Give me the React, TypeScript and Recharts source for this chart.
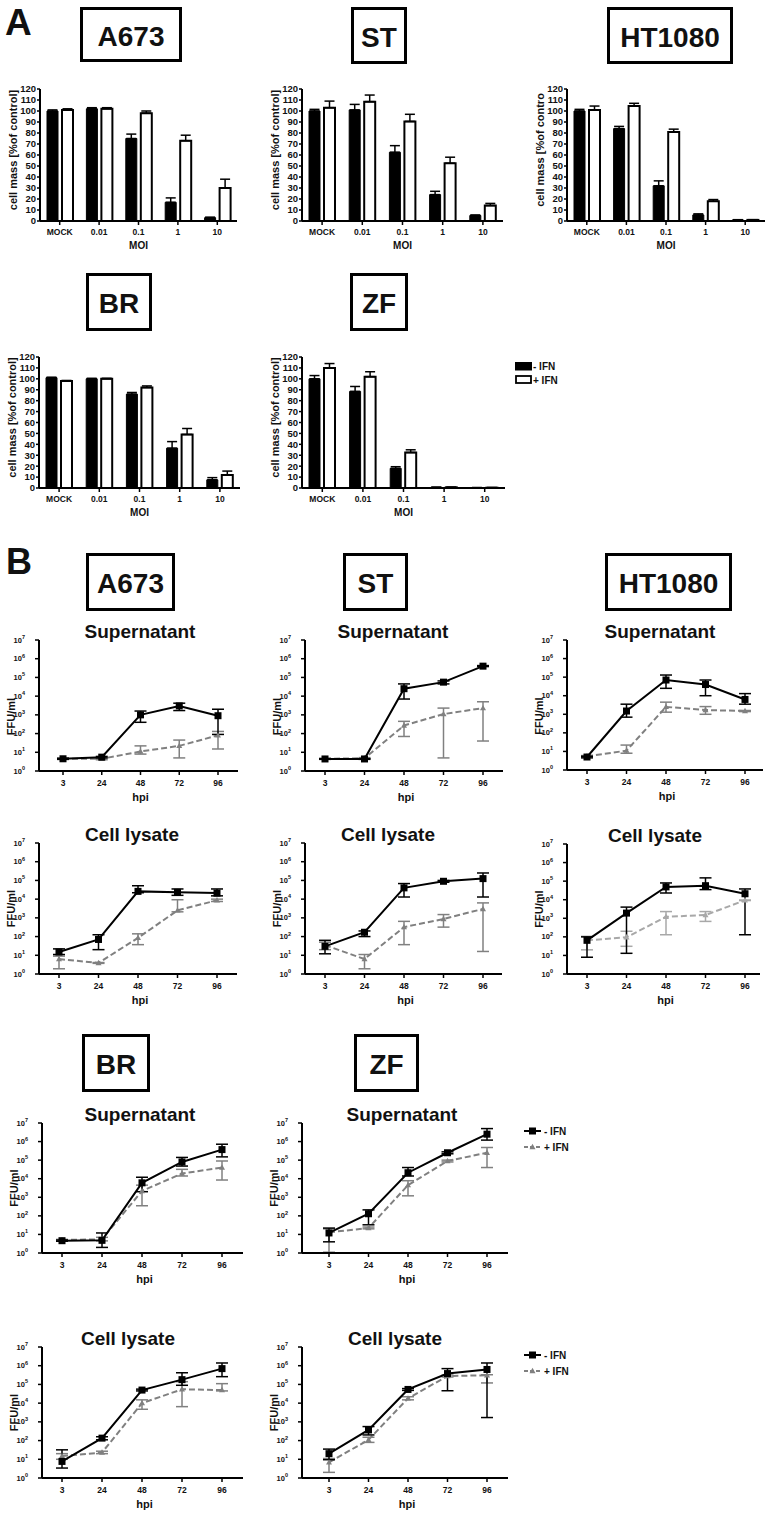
import React from 'react';
import { BarChart, Bar, LineChart, Line, XAxis, YAxis, ErrorBar } from 'recharts';

const FONT = '"Liberation Sans", Arial, Helvetica, sans-serif';

const moiLabels = ['MOCK', '0.01', '0.1', '1', '10'];
const hpiLabels = ['3', '24', '48', '72', '96'];
const pctTicks = [0, 10, 20, 30, 40, 50, 60, 70, 80, 90, 100, 110, 120];
const logTicks = [1, 10, 100, 1000, 10000, 100000, 1000000, 10000000];

// ---------- Panel A: cell mass [% of control] ----------
const a673BarNeg = [100, 102, 75, 17, 3];
const a673BarNegErr = [1, 1, 4, 4, 0.5];
const a673BarPos = [101, 102, 98, 73, 30];
const a673BarPosErr = [1, 1, 2, 5, 8];

const stBarNeg = [100, 101, 62.5, 24, 5];
const stBarNegErr = [1.5, 5, 6, 3, 0.5];
const stBarPos = [103, 108.5, 90.5, 52.5, 14];
const stBarPosErr = [6, 6, 6.5, 5.5, 2];

const htBarNeg = [100, 84, 32, 5.5, 1];
const htBarNegErr = [1.5, 2, 4.5, 1, 0.2];
const htBarPos = [101, 104.5, 81, 18, 1];
const htBarPosErr = [3.5, 2.5, 2.5, 1.5, 0.2];

const brBarNeg = [101, 100, 86, 36.5, 7.5];
const brBarNegErr = [0.5, 0.5, 1.5, 6, 2];
const brBarPos = [98, 100, 92, 49, 12];
const brBarPosErr = [0.5, 0.5, 1.5, 5.5, 3.5];

const zfBarNeg = [100, 88.5, 18, 0.6, 0.3];
const zfBarNegErr = [3, 4.5, 1.5, 0.2, 0.1];
const zfBarPos = [110, 102, 32.5, 0.6, 0.3];
const zfBarPosErr = [4, 4.5, 2.5, 0.2, 0.1];

// ---------- Panel B: FFU/ml (value, [low, high] of error bar) ----------
const a673SupNeg = [4.5, 5.5, 1000, 3000, 900];
const a673SupNegErr = [[4.2, 4.8], [5, 6], [400, 1600], [1700, 4200], [90, 2000]];
const a673SupPos = [4.5, 4.5, 11, 22, 80];
const a673SupPosErr = [[4.2, 4.8], [4, 5], [8, 22], [5, 45], [15, 130]];

const stSupNeg = [4.4, 4.4, 25000, 56000, 400000];
const stSupNegErr = [[4.2, 4.6], [4.2, 4.6], [7000, 45000], [45000, 65000], [380000, 430000]];
const stSupPos = [4.5, 4.8, 270, 1100, 2300];
const stSupPosErr = [[4.3, 4.7], [4.5, 5.2], [70, 450], [5, 2300], [40, 5000]];

const htSupNeg = [5, 1500, 70000, 40000, 6300];
const htSupNegErr = [[4.5, 5.5], [700, 3500], [25000, 130000], [10000, 70000], [3500, 13000]];
const htSupPos = [5.5, 11, 2500, 1700, 1500];
const htSupPosErr = [[5, 6], [8, 22], [1300, 4500], [1000, 2600], [1400, 1600]];

const a673LysNeg = [15, 70, 26000, 23000, 21000];
const a673LysNegErr = [[11, 22], [20, 125], [22000, 52000], [16000, 35000], [15000, 35000]];
const a673LysPos = [6.3, 3.9, 85, 2500, 8700];
const a673LysPosErr = [[1.9, 9], [3.7, 4.1], [37, 140], [2100, 9300], [7500, 10000]];

const stLysNeg = [30, 170, 40000, 90000, 125000];
const stLysNegErr = [[12, 63], [100, 200], [13000, 68000], [80000, 100000], [13000, 250000]];
const stLysPos = [35, 6.3, 320, 870, 3000];
const stLysPosErr = [[20, 50], [1.9, 11], [37, 650], [320, 1500], [16, 6300]];

const htLysNeg = [65, 1900, 49000, 57000, 21000];
const htLysNegErr = [[8, 100], [13, 4000], [23000, 80000], [35000, 150000], [130, 38000]];
const htLysPos = [65, 95, 1200, 1500, 9300];
const htLysPosErr = [[20, 107], [31, 200], [130, 2300], [680, 2300], [9000, 9600]];

const brSupNeg = [4.6, 4.8, 6000, 80000, 370000];
const brSupNegErr = [[4.3, 5], [2, 12], [2000, 12000], [48000, 140000], [150000, 720000]];
const brSupPos = [5, 5.5, 2200, 19000, 40000];
const brSupPosErr = [[4.6, 5.4], [4.5, 7], [350, 4500], [14000, 32000], [8500, 90000]];

const zfSupNeg = [12, 130, 21000, 250000, 2500000];
const zfSupNegErr = [[4, 22], [33, 210], [14000, 40000], [220000, 280000], [1200000, 5000000]];
const zfSupPos = [13, 22, 4500, 90000, 250000];
const zfSupPosErr = [[1.1, 20], [20, 25], [1200, 7800], [80000, 100000], [40000, 480000]];

const brLysNeg = [7.7, 135, 50000, 180000, 700000];
const brLysNegErr = [[3.4, 32], [110, 160], [45000, 56000], [90000, 420000], [260000, 1400000]];
const brLysPos = [15, 23, 10000, 55000, 50000];
const brLysPosErr = [[10, 20], [20, 27], [4700, 15000], [6500, 140000], [45000, 110000]];

const zfLysNeg = [20, 370, 54000, 380000, 630000];
const zfLysNegErr = [[9.5, 35], [200, 560], [48000, 60000], [46000, 700000], [1700, 1400000]];
const zfLysPos = [6.8, 110, 18000, 280000, 310000];
const zfLysPosErr = [[2, 11], [80, 150], [15000, 22000], [250000, 320000], [120000, 330000]];

// ---------- helpers ----------
function barRows(neg: number[], negErr: number[], pos: number[], posErr: number[]) {
  return moiLabels.map((m, i) => ({ moi: m, neg: neg[i], negE: [0, negErr[i]], pos: pos[i], posE: [0, posErr[i]] }));
}
function lineRows(neg: number[], negErr: number[][], pos: number[], posErr: number[][]) {
  return hpiLabels.map((h, i) => ({
    hpi: h,
    neg: neg[i],
    negE: [neg[i] - negErr[i][0], negErr[i][1] - neg[i]],
    pos: pos[i],
    posE: [pos[i] - posErr[i][0], posErr[i][1] - pos[i]],
  }));
}

const axisLine = { stroke: '#000', strokeWidth: 2 };
const tickLine = { stroke: '#000', strokeWidth: 1.5 };

function BarPanel({ L, R, T, B, rows }: any) {
  const left = L - 40;
  const top = T - 9;
  const width = R - left + 5;
  const height = B - top + 30;
  return (
    <div style={{ position: 'absolute', left, top, width, height }}>
      <BarChart width={width} height={height} data={rows} margin={{ top: 9, right: 5, left: 0, bottom: 0 }} barSize={11} barGap={4}>
        <XAxis dataKey="moi" height={30} interval={0} tickSize={4} tickMargin={4} axisLine={axisLine} tickLine={tickLine}
          tick={{ fontSize: 8.5, fontWeight: 'bold', fontFamily: FONT, fill: '#111' }} />
        <YAxis width={40} domain={[0, 120]} ticks={pctTicks} interval={0} tickSize={3} tickMargin={1} allowDataOverflow
          axisLine={axisLine} tickLine={tickLine} tick={{ fontSize: 9.5, fontWeight: 'bold', fontFamily: FONT, fill: '#111' }} />
        <Bar dataKey="neg" fill="#000" stroke="#000" strokeWidth={1} isAnimationActive={false}>
          <ErrorBar dataKey="negE" width={5} stroke="#000" strokeWidth={1.5} direction="y" isAnimationActive={false} />
        </Bar>
        <Bar dataKey="pos" fill="#fff" stroke="#000" strokeWidth={2} isAnimationActive={false}>
          <ErrorBar dataKey="posE" width={5} stroke="#000" strokeWidth={1.5} direction="y" isAnimationActive={false} />
        </Bar>
      </BarChart>
    </div>
  );
}

const LogTick = (props: any) => {
  const { x, y, payload } = props;
  const e = Math.round(Math.log10(payload.value));
  return (
    <text x={x} y={y + 2.5} textAnchor="end" fontFamily={FONT} fontWeight="bold" fontSize={7.5} fill="#111">
      10<tspan dy={-3.5} fontSize={5.5}>{e}</tspan>
    </text>
  );
};

const squareDot = (p: any) => (
  <rect key={`sq${p.index}`} x={p.cx - 3.5} y={p.cy - 3.5} width={7} height={7} fill="#000" />
);
const triDot = (color: string) => (p: any) => (
  <path key={`tr${p.index}`} d={`M${p.cx},${p.cy - 3.2} L${p.cx + 3},${p.cy + 2.2} L${p.cx - 3},${p.cy + 2.2} Z`} fill={color} />
);

function LinePanel({ L, R, T, B, padL, padR, rows, posColor }: any) {
  const left = L - 39;
  const top = T - 8;
  const width = R - left + 5;
  const height = B - top + 32;
  const pc = posColor || '#808080';
  return (
    <div style={{ position: 'absolute', left, top, width, height }}>
      <LineChart width={width} height={height} data={rows} margin={{ top: 8, right: 5, left: 0, bottom: 0 }}>
        <XAxis dataKey="hpi" height={32} interval={0} tickSize={4} tickMargin={5} padding={{ left: padL, right: padR }}
          axisLine={axisLine} tickLine={tickLine} tick={{ fontSize: 8.5, fontWeight: 'bold', fontFamily: FONT, fill: '#111' }} />
        <YAxis width={39} type="number" scale="log" domain={[1, 10000000]} ticks={logTicks} interval={0} allowDataOverflow
          tickSize={4} tickMargin={10} axisLine={axisLine} tickLine={tickLine} tick={<LogTick />} />
        <Line dataKey="pos" stroke={pc} strokeWidth={2} strokeDasharray="6 3" dot={triDot(pc)} isAnimationActive={false}>
          <ErrorBar dataKey="posE" width={6} stroke={pc} strokeWidth={1.5} direction="y" isAnimationActive={false} />
        </Line>
        <Line dataKey="neg" stroke="#000" strokeWidth={2} dot={squareDot} isAnimationActive={false}>
          <ErrorBar dataKey="negE" width={6} stroke="#000" strokeWidth={1.5} direction="y" isAnimationActive={false} />
        </Line>
      </LineChart>
    </div>
  );
}

// ---------- layout ----------
const barPanels = [
  { L: 40, R: 237, T: 89, B: 221, rows: barRows(a673BarNeg, a673BarNegErr, a673BarPos, a673BarPosErr), ylab: 'cell mass [%of control]' },
  { L: 302, R: 503, T: 89, B: 221, rows: barRows(stBarNeg, stBarNegErr, stBarPos, stBarPosErr), ylab: 'cell mass [%of control]' },
  { L: 567, R: 765, T: 89, B: 221, rows: barRows(htBarNeg, htBarNegErr, htBarPos, htBarPosErr), ylab: 'cell mass [%of contro' },
  { L: 39, R: 240, T: 357, B: 488, rows: barRows(brBarNeg, brBarNegErr, brBarPos, brBarPosErr), ylab: 'cell mass [%of control]' },
  { L: 302, R: 505, T: 357, B: 488, rows: barRows(zfBarNeg, zfBarNegErr, zfBarPos, zfBarPosErr), ylab: 'cell mass [%of control]' },
];

const linePanels = [
  { L: 39, R: 238, T: 640, B: 771, padL: 24, padR: 20, title: 'Supernatant', tx: 140, ldy: 11, rows: lineRows(a673SupNeg, a673SupNegErr, a673SupPos, a673SupPosErr) },
  { L: 305, R: 503, T: 640, B: 771, padL: 20, padR: 20, title: 'Supernatant', tx: 393, ldy: 11, rows: lineRows(stSupNeg, stSupNegErr, stSupPos, stSupPosErr) },
  { L: 567, R: 763, T: 640, B: 770, padL: 20, padR: 18, title: 'Supernatant', tx: 660, ldy: 11, rows: lineRows(htSupNeg, htSupNegErr, htSupPos, htSupPosErr) },
  { L: 39, R: 237, T: 843, B: 974, padL: 20, padR: 20, title: 'Cell lysate', tx: 132, ldy: 0, rows: lineRows(a673LysNeg, a673LysNegErr, a673LysPos, a673LysPosErr) },
  { L: 305, R: 502, T: 843, B: 974, padL: 20, padR: 19, title: 'Cell lysate', tx: 388, ldy: 0, rows: lineRows(stLysNeg, stLysNegErr, stLysPos, stLysPosErr) },
  { L: 567, R: 760, T: 844, B: 974, padL: 20, padR: 15, title: 'Cell lysate', tx: 655, ldy: 0, posColor: '#a8a8a8', rows: lineRows(htLysNeg, htLysNegErr, htLysPos, htLysPosErr) },
  { L: 42, R: 243, T: 1123, B: 1253, padL: 20, padR: 21, title: 'Supernatant', tx: 140, ldy: 0, rows: lineRows(brSupNeg, brSupNegErr, brSupPos, brSupPosErr) },
  { L: 302, R: 508, T: 1123, B: 1253, padL: 27, padR: 21, title: 'Supernatant', tx: 402, ldy: 0, legend: true, rows: lineRows(zfSupNeg, zfSupNegErr, zfSupPos, zfSupPosErr) },
  { L: 42, R: 243, T: 1347, B: 1478, padL: 20, padR: 21, title: 'Cell lysate', tx: 128, ldy: 0, rows: lineRows(brLysNeg, brLysNegErr, brLysPos, brLysPosErr) },
  { L: 302, R: 508, T: 1347, B: 1478, padL: 27, padR: 21, title: 'Cell lysate', tx: 395, ldy: 0, legend: true, rows: lineRows(zfLysNeg, zfLysNegErr, zfLysPos, zfLysPosErr) },
];

const nameBoxes = [
  { x: 80, y: 7, w: 102, h: 55, t: 'A673' },
  { x: 351, y: 7, w: 56, h: 57, t: 'ST' },
  { x: 607, y: 7, w: 126, h: 57, t: 'HT1080' },
  { x: 86, y: 273, w: 66, h: 58, t: 'BR' },
  { x: 350, y: 273, w: 58, h: 58, t: 'ZF' },
  { x: 86, y: 553, w: 89, h: 58, t: 'A673' },
  { x: 343, y: 553, w: 65, h: 58, t: 'ST' },
  { x: 605, y: 553, w: 127, h: 58, t: 'HT1080' },
  { x: 82, y: 1034, w: 68, h: 58, t: 'BR' },
  { x: 354, y: 1034, w: 65, h: 58, t: 'ZF' },
];

const txt = { fontFamily: FONT, fontWeight: 'bold' as const, fill: '#111' };

export default function App() {
  return (
    <div style={{ position: 'absolute', left: 0, top: 0, width: 771, height: 1513, background: '#fff', overflow: 'hidden' }}>
      {barPanels.map((p, i) => <BarPanel key={`b${i}`} {...p} />)}
      {linePanels.map((p, i) => <LinePanel key={`l${i}`} {...p} />)}
      <svg width={771} height={1513} style={{ position: 'absolute', left: 0, top: 0, pointerEvents: 'none' }}>
        <text x={5} y={35} fontSize={37} {...txt}>A</text>
        <text x={6} y={574} fontSize={36} {...txt}>B</text>
        {nameBoxes.map((b, i) => (
          <g key={`nb${i}`}>
            <rect x={b.x + 1.5} y={b.y + 1.5} width={b.w - 3} height={b.h - 3} fill="none" stroke="#000" strokeWidth={3} />
            <text x={b.x + b.w / 2} y={b.y + b.h / 2 + 11} textAnchor="middle" fontSize={28} {...txt}>{b.t}</text>
          </g>
        ))}
        {barPanels.map((p, i) => (
          <g key={`bl${i}`}>
            <text transform={`translate(${p.L - 27},${(p.T + p.B) / 2 - 5}) rotate(-90)`} textAnchor="middle" dominantBaseline="central"
              fontSize={11} {...txt}>{p.ylab}</text>
            <text x={(p.L + p.R) / 2} y={p.B + 28} textAnchor="middle" fontSize={10} {...txt}>MOI</text>
          </g>
        ))}
        {linePanels.map((p, i) => (
          <g key={`ll${i}`}>
            <text x={p.tx} y={p.T - 2} textAnchor="middle" fontSize={19} {...txt}>{p.title}</text>
            <text transform={`translate(${p.L - 28},${(p.T + p.B) / 2 + p.ldy}) rotate(-90)`} textAnchor="middle" dominantBaseline="central"
              fontSize={11} {...txt}>FFU/ml</text>
            <text x={(p.L + p.R) / 2 + 2} y={p.B + 30} textAnchor="middle" fontSize={11} {...txt}>hpi</text>
            {p.legend ? (
              <g>
                <line x1={524} x2={541} y1={p.T + 8} y2={p.T + 8} stroke="#000" strokeWidth={2} />
                <rect x={529} y={p.T + 4.5} width={7} height={7} fill="#000" />
                <text x={544} y={p.T + 11.5} fontSize={10} {...txt}>- IFN</text>
                <line x1={524} x2={541} y1={p.T + 24} y2={p.T + 24} stroke="#808080" strokeWidth={2} strokeDasharray="4 2" />
                <path d={`M532.5,${p.T + 20.8} L535.5,${p.T + 26.2} L529.5,${p.T + 26.2} Z`} fill="#808080" />
                <text x={544} y={p.T + 27.5} fontSize={10} {...txt}>+ IFN</text>
              </g>
            ) : null}
          </g>
        ))}
        <rect x={515.5} y={362.5} width={16} height={7.5} fill="#000" stroke="#000" strokeWidth={1} />
        <text x={533} y={370} fontSize={10} {...txt}>- IFN</text>
        <rect x={516} y={376} width={15} height={7} fill="#fff" stroke="#000" strokeWidth={1.8} />
        <text x={533} y={384} fontSize={10} {...txt}>+ IFN</text>
      </svg>
    </div>
  );
}
